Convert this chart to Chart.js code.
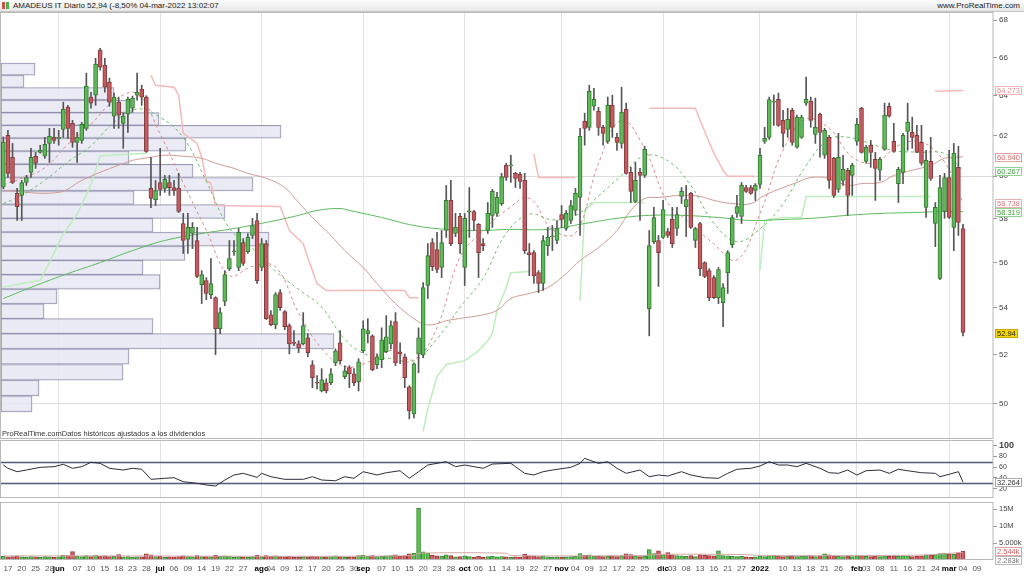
<!DOCTYPE html>
<html><head><meta charset="utf-8">
<script src="https://cdn.jsdelivr.net/npm/chart.js@4/dist/chart.umd.min.js"></script>
<style>
html,body{margin:0;padding:0;background:#fff;width:1024px;height:576px;overflow:hidden;font-family:"Liberation Sans",Arial,sans-serif;}
#hdr{position:absolute;left:0;top:0;width:1024px;height:11px;background:linear-gradient(#fdfdfd,#e6e6e6);border-bottom:1px solid #c6c6c6;font-size:8px;line-height:11px;color:#222;z-index:2;}
#hdr .t{position:absolute;left:13px;top:0;}
#hdr .r{position:absolute;right:4px;top:0;}
.ic{position:absolute;top:2px;width:3px;height:7px;}
canvas{position:absolute;left:0;}
#note{position:absolute;left:2px;top:429px;font-size:7.5px;color:#333;z-index:2;}
</style></head><body>
<div id="hdr"><span class="ic" style="left:2px;background:#d05050"></span><span class="ic" style="left:6px;background:#50b050"></span><span class="t">AMADEUS IT Diario 52,94 (-8,50% 04-mar-2022 13:02:07</span><span class="r">www.ProRealTime.com</span></div>
<canvas id="cPrice" width="1024" height="427" style="top:12px"></canvas>
<canvas id="cRsi" width="1024" height="62" style="top:438px"></canvas>
<canvas id="cVol" width="1024" height="76" style="top:500px"></canvas>
<div id="note">ProRealTime.comDatos históricos ajustados a los dividendos</div>
<script>
// ---------- categories ----------
const holidays = ['2021-12-24','2021-12-31'];
const futureDays = ['2022-03-07','2022-03-08','2022-03-09','2022-03-10','2022-03-11','2022-03-14'];
function tradingDays(a,b){const out=[];const d=new Date(a+'T00:00:00Z');const e=new Date(b+'T00:00:00Z');
  while(d<=e){const wd=d.getUTCDay();const s=d.toISOString().slice(0,10);
    if(wd!==0&&wd!==6&&!holidays.includes(s))out.push(s);d.setUTCDate(d.getUTCDate()+1);}return out;}
const dates = tradingDays('2021-05-14','2022-03-04').concat(futureDays);

const tickDates = ['2021-05-17','2021-05-20','2021-05-25','2021-05-28','2021-06-01','2021-06-07','2021-06-10','2021-06-15','2021-06-18','2021-06-23','2021-06-28','2021-07-01','2021-07-06','2021-07-09','2021-07-14','2021-07-19','2021-07-22','2021-07-27','2021-08-02','2021-08-04','2021-08-09','2021-08-12','2021-08-17','2021-08-20','2021-08-25','2021-08-30','2021-09-01','2021-09-07','2021-09-10','2021-09-15','2021-09-20','2021-09-23','2021-09-28','2021-10-01','2021-10-06','2021-10-11','2021-10-14','2021-10-19','2021-10-22','2021-10-27','2021-11-01','2021-11-04','2021-11-09','2021-11-12','2021-11-17','2021-11-22','2021-11-25','2021-12-01','2021-12-03','2021-12-08','2021-12-13','2021-12-16','2021-12-21','2021-12-27','2022-01-03','2022-01-10','2022-01-13','2022-01-18','2022-01-21','2022-01-26','2022-02-01','2022-02-03','2022-02-08','2022-02-11','2022-02-16','2022-02-21','2022-02-24','2022-03-01','2022-03-04','2022-03-09'];
const tickTexts = ['17','20','25','28','jun','07','10','15','18','23','28','jul','06','09','14','19','22','27','ago','04','09','12','17','20','25','30','sep','07','10','15','20','23','28','oct','06','11','14','19','22','27','nov','04','09','12','17','22','25','dic','03','08','13','16','21','27','2022','10','13','18','21','26','feb','03','08','11','16','21','24','mar','04','09'];
const monthTexts = ['jun','jul','ago','sep','oct','nov','dic','2022','feb','mar'];

// ---------- OHLC ----------
const opens = [59.48,62.00,60.92,59.18,59.09,59.70,60.19,60.97,61.16,60.97,
61.60,61.90,61.85,62.30,63.41,62.60,61.65,61.75,62.35,63.93,
64.03,66.38,65.59,64.70,62.96,63.67,62.60,63.06,63.36,64.03,
64.33,63.93,59.42,58.89,59.70,59.42,59.70,59.46,59.42,57.77,
57.04,57.31,56.99,55.01,55.19,54.57,54.44,53.10,54.27,55.72,
56.48,55.77,56.90,56.48,57.22,57.91,55.77,56.85,53.70,53.27,
54.66,53.83,53.23,52.52,52.46,52.46,52.71,51.59,50.87,50.52,
50.85,50.85,51.67,52.50,51.10,51.47,51.22,50.89,52.17,52.89,
52.80,51.59,51.80,52.13,52.46,53.40,52.13,51.92,50.69,49.60,
52.04,52.00,54.97,56.90,56.58,55.77,57.45,58.85,57.31,58.10,
55.77,58.30,58.33,57.73,56.85,57.45,58.15,58.24,58.70,60.53,
60.50,60.14,60.09,59.80,56.44,56.44,55.54,55.06,56.76,57.15,
56.99,58.19,57.54,57.91,58.38,58.99,62.70,62.40,63.46,63.21,
62.40,61.70,63.51,61.90,61.60,63.31,60.19,58.80,60.19,60.04,
53.96,56.94,56.99,57.13,57.40,57.96,57.54,59.04,58.56,59.18,
56.99,57.77,55.99,55.63,55.32,54.44,54.22,55.54,56.80,58.24,
58.10,59.46,59.46,59.32,59.61,61.70,61.90,63.67,63.82,62.75,
62.30,63.26,61.41,61.90,63.62,63.72,62.05,63.06,61.02,61.90,
60.87,59.37,59.80,60.29,60.04,61.70,63.36,60.72,61.51,60.82,
60.29,61.31,63.46,61.70,59.65,60.19,62.20,62.15,62.00,61.65,
58.52,60.72,57.77,55.28,58.33,59.94,57.59,60.43,57.54];
const highs = [61.92,62.25,61.60,59.42,59.80,60.04,61.36,61.16,61.51,61.90,
62.35,62.35,62.25,63.67,63.51,62.75,62.15,62.65,65.17,64.18,
65.95,66.48,65.95,64.91,64.13,63.93,63.11,63.93,63.98,65.17,
64.54,64.00,60.92,59.80,61.36,60.04,60.04,59.80,60.14,58.24,
58.24,57.82,57.59,55.63,55.32,56.17,54.48,54.00,55.63,56.99,
56.99,57.54,57.08,57.31,58.01,58.24,57.08,56.99,53.88,54.66,
54.79,53.88,53.31,53.02,52.59,53.79,52.89,51.76,51.14,51.43,
51.01,51.43,52.25,53.02,51.55,51.55,51.43,51.84,53.44,53.53,
52.84,52.04,53.14,53.66,53.44,53.79,52.50,52.04,50.73,51.67,
53.14,55.10,56.85,57.08,57.36,57.45,59.56,59.80,58.24,58.24,
58.24,59.46,58.38,57.77,57.08,58.75,59.37,59.23,60.14,60.63,
61.02,60.19,60.19,60.14,56.85,56.53,55.63,57.22,57.59,57.68,
57.91,58.61,58.38,58.85,59.42,62.35,63.11,64.54,64.38,63.41,
62.50,63.93,64.03,62.10,64.44,63.62,60.43,60.67,60.38,61.46,
57.45,58.52,57.22,58.85,57.54,58.52,58.52,59.46,59.56,59.23,
57.59,57.82,56.03,55.72,55.41,55.77,55.06,56.53,58.15,59.09,
59.70,59.56,59.56,59.65,61.36,62.40,63.93,64.03,64.13,63.26,
63.36,63.36,63.01,63.01,64.96,63.93,63.88,63.11,62.35,62.00,
60.92,62.10,61.02,60.38,60.63,62.85,63.41,61.51,61.75,61.16,
60.92,63.62,63.62,62.60,60.43,62.10,63.62,62.91,62.50,62.50,
61.26,61.90,58.75,60.04,60.14,61.26,61.60,61.46,57.73];
const lows = [59.40,59.94,59.65,57.91,57.91,59.56,59.94,60.38,61.12,60.87,
60.67,61.60,61.51,61.90,61.85,61.41,60.67,61.60,62.25,63.36,
63.51,65.32,64.18,63.46,62.35,62.35,61.36,62.15,63.16,63.77,
63.51,61.16,58.51,58.61,59.09,59.23,59.09,59.09,58.28,56.40,
56.40,56.62,55.32,54.18,54.35,54.40,52.01,52.89,54.09,55.63,
56.31,55.63,55.86,56.40,57.08,55.06,55.63,53.49,53.23,53.10,
53.88,53.06,52.04,52.38,52.09,52.42,51.92,50.65,50.60,50.48,
50.44,50.77,51.55,51.63,51.01,50.65,50.73,50.52,52.09,52.50,
51.34,51.43,51.47,52.09,52.25,51.55,51.63,50.65,49.40,49.44,
51.26,51.88,54.40,55.63,55.54,55.32,57.13,56.76,57.17,56.40,
54.97,57.13,57.45,55.32,56.53,57.31,57.59,58.10,58.61,59.80,
59.70,59.46,59.42,56.40,55.41,55.06,54.66,54.75,56.31,56.53,
56.85,57.59,57.45,57.77,58.15,57.22,61.51,62.25,63.26,62.00,
61.51,61.60,61.90,61.26,61.36,60.10,58.75,58.75,57.91,59.94,
52.80,56.85,54.93,57.08,57.13,56.67,57.22,58.70,57.17,57.54,
56.67,55.41,55.32,54.31,54.40,54.18,53.19,54.62,56.67,58.05,
57.77,59.23,59.14,58.85,59.42,61.60,61.80,62.50,62.45,61.41,
61.90,61.51,61.36,61.85,63.51,62.40,61.60,60.92,60.87,59.42,
58.99,59.23,59.56,58.15,59.09,61.51,61.12,60.63,60.43,58.85,
59.80,61.26,62.91,61.16,58.75,59.65,61.26,61.36,61.16,60.53,
58.05,59.80,56.71,55.23,58.01,58.01,56.53,57.22,52.80];
const closes = [61.67,60.14,59.70,58.56,59.70,59.94,60.92,60.63,61.26,61.56,
61.95,61.75,61.88,63.31,62.35,61.65,61.90,62.55,64.49,63.62,
65.64,65.48,64.44,63.67,63.93,63.01,62.96,63.82,63.88,64.18,
63.93,61.21,58.94,59.32,59.37,59.85,59.46,59.32,58.33,56.99,
57.59,57.59,55.37,55.46,54.62,55.06,53.10,53.79,55.46,56.17,
56.50,57.36,55.95,57.13,57.68,55.19,56.85,53.53,53.27,54.57,
54.00,53.19,52.46,52.48,52.29,53.23,52.09,51.06,50.83,50.97,
50.52,51.22,52.17,51.76,51.34,51.22,50.85,51.71,53.10,53.02,
51.38,51.92,52.63,52.76,53.23,51.67,52.04,51.06,49.72,51.63,
52.71,54.88,56.31,55.81,55.68,56.90,58.85,56.85,57.59,56.85,
58.01,58.36,57.91,56.44,56.76,58.24,59.28,58.99,59.99,59.94,
60.55,59.90,59.75,56.53,56.35,55.41,55.06,56.99,57.13,57.20,
57.54,57.96,58.24,58.61,59.18,61.95,62.35,64.23,63.82,62.40,
62.10,63.51,62.40,61.65,63.16,60.14,59.28,59.80,60.04,61.31,
56.76,58.05,56.44,58.42,57.22,56.85,58.19,59.28,58.89,57.59,
57.54,55.72,55.37,54.44,54.44,55.68,54.88,56.44,58.05,58.56,
59.56,59.28,59.18,59.56,61.02,61.85,63.80,63.72,62.50,62.10,
62.80,61.65,62.91,62.91,63.82,62.75,62.40,62.15,62.25,59.80,
59.09,60.92,60.34,59.09,60.53,62.55,61.16,61.41,61.16,60.38,
60.82,63.01,62.96,61.21,60.34,62.00,62.65,61.90,61.16,60.63,
60.77,59.90,58.52,59.46,59.94,58.05,61.12,57.82,52.94];
// volume, millions of shares
const volumes = [1.1,0.9,1.0,1.2,0.9,0.8,1.0,0.9,0.8,1.0,
0.9,0.8,0.9,1.4,1.3,2.5,1.1,1.0,1.3,1.0,
1.4,1.1,1.2,1.0,1.1,1.6,0.9,1.0,0.8,0.9,
0.9,1.8,1.5,1.0,1.1,0.8,0.9,0.8,1.0,1.2,
1.0,0.9,1.3,1.0,1.0,0.9,1.4,1.1,1.2,1.1,
0.8,1.0,0.9,0.8,0.9,1.4,1.0,1.3,1.1,1.2,
1.0,0.9,1.1,0.8,0.8,1.0,0.9,1.1,1.0,0.9,
0.9,1.0,1.2,1.0,0.8,0.8,0.9,1.3,1.4,1.1,
1.3,1.0,1.1,1.2,1.3,1.5,1.1,1.3,1.8,2.0,
15.2,2.4,2.0,1.4,1.2,1.1,1.5,1.3,0.9,1.0,
1.2,1.0,0.8,1.1,0.8,1.0,1.1,0.9,1.0,0.9,
0.8,0.9,0.8,1.7,1.2,1.1,1.0,1.2,0.9,0.8,
0.9,0.8,0.9,1.0,1.1,1.9,1.4,1.5,1.1,1.2,
1.0,1.1,1.2,1.0,1.3,1.8,1.6,1.2,1.0,1.1,
3.1,1.9,2.7,1.6,2.2,1.5,1.3,1.2,1.1,1.3,
1.0,1.6,1.4,1.3,1.2,2.7,1.3,1.2,1.1,1.0,
1.1,0.9,0.8,0.9,1.2,1.0,1.3,1.4,1.2,1.0,
1.1,1.2,1.0,1.1,1.2,1.3,1.0,1.2,1.8,1.5,
1.3,1.1,1.0,1.2,1.0,1.3,1.4,1.1,1.0,1.2,
1.0,1.3,1.1,1.2,1.1,1.3,1.2,1.0,1.1,1.2,
1.5,1.4,1.7,1.9,2.0,1.8,1.7,2.1,2.54];
const volMaIdx = [0,30,60,89,90,109,110,139,140,145,160,165,185,200,208];
const volMaVal = [1.2,1.2,1.1,1.3,2.0,2.0,1.3,1.3,1.5,1.7,1.6,1.3,1.3,1.5,2.28];

// ---------- moving averages (read at sampled sessions) ----------
const ma10Idx = [0,4,9,14,19,24,29,34,39,44,49,54,59,64,69,74,79,84,89,94,99,104,109,114,119,124,129,134,139,144,149,154,159,164,169,174,179,184,189,194,199,204,208];
const ma10Val = [59.6,59.9,60.41,61.56,62.55,63.74,64.10,62.06,59.67,57.46,55.42,55.82,55.80,53.78,52.26,51.52,51.69,52.18,51.80,53.15,56.24,57.45,58.39,58.95,57.49,57.33,60.63,62.76,61.34,58.75,57.77,56.83,56.11,58.22,61.27,62.81,62.34,60.93,60.66,61.50,61.67,60.69,58.74];
const ma20Idx = ma10Idx;
const ma20Val = [58.7,59.1,59.8,60.7,61.48,62.65,63.33,62.90,61.89,59.76,57.55,56.64,55.61,54.80,54.03,52.65,51.98,51.85,51.75,52.67,54.02,55.30,57.32,58.20,57.94,58.14,59.06,60.04,60.99,60.75,59.56,57.79,56.94,57.53,58.69,60.52,61.81,61.87,61.50,61.22,61.17,61.10,60.27];
const ma50Idx = [0,12,17,21,25,28,32,35,39,43,46,50,53,57,61,64,67,71,74,78,81,85,89,91,93,96,100,103,107,110,114,118,122,125,129,133,136,139,142,147,151,154,158,162,165,169,172,175,179,183,186,190,193,197,201,204,208];
const ma50Val = [59.32,59.23,59.80,60.19,60.53,60.77,60.92,61.02,60.97,60.87,60.63,60.38,60.14,59.90,59.46,58.75,58.05,57.22,56.53,55.77,55.06,54.18,53.53,53.31,53.27,53.44,53.57,53.66,53.88,54.40,54.62,54.88,55.50,56.08,56.67,57.45,58.38,58.94,58.99,59.09,59.04,58.85,58.70,58.70,59.09,59.46,59.70,59.94,59.90,59.56,59.65,59.70,60.04,60.29,60.53,60.87,60.94];
const ma200Idx = [0,7,14,21,28,35,43,50,57,64,68,73,75,82,89,96,103,110,118,126,133,140,147,155,162,169,175,183,190,197,204,208];
const ma200Val = [54.40,54.97,55.50,55.99,56.53,56.99,57.31,57.54,57.82,58.15,58.38,58.47,58.38,58.05,57.68,57.50,57.45,57.50,57.50,57.77,58.01,58.15,58.15,58.05,57.91,57.96,58.01,58.15,58.24,58.28,58.33,58.32];

// trailing stop: [session, level]
const stopHighSegs = [
 [[32,65.06],[33,64.54],[37,64.44],[38,64.03],[39,62.10],[42,61.60],[43,60.92],[44,59.80],[45,59.65],[46,58.61],[60,58.56],[62,57.45],[65,56.85],[66,56.20],[68,55.06],[70,54.75],[87,54.75],[88,54.44],[90,54.44]],
 [[115,61.07],[116,59.94],[124,59.94]],
 [[140,63.36],[150,63.36],[151,62.75],[154,61.12],[156,60.29],[157,60.00],[163,60.00]],
 [[202,64.23],[208,64.27]]
];
const stopLowSegs = [
 [[0,54.9],[8,55.2],[10,56.0],[13,57.3],[16,58.2],[19,59.6],[21,61.0],[31,61.12]],
 [[91,48.9],[92,49.8],[94,51.1],[96,51.6],[100,51.76],[103,52.17],[105,52.59],[106,52.9],[107,53.88],[109,54.88],[110,55.54],[114,55.59]],
 [[125,54.31],[126,58.38],[128,58.75],[139,58.75]],
 [[164,55.63],[165,57.91],[169,58.05],[173,58.05],[174,59.04],[201,59.04]]
];

// volume profile (price bin centre, relative volume)
const profilePrices = [50.00,50.64,51.28,51.93,52.57,53.21,53.85,54.49,55.13,55.77,56.41,57.05,57.69,58.33,58.98,59.62,60.26,60.90,61.54,62.18,62.82,63.46,64.10,64.74,65.38];
const profileVolume = [31,38,122,128,333,152,43,56,159,142,184,268,152,224,133,252,192,128,185,280,158,132,113,23,34];
const profileHalfBin = 0.3205;

// RSI
const rsiIdx = [0,1,3,5,8,11,13,15,17,19,21,23,26,28,30,32,35,37,39,42,44,46,48,50,52,55,56,58,61,65,67,69,72,74,76,78,81,83,86,88,90,92,94,96,98,100,102,104,106,110,113,115,117,119,123,125,126,127,129,131,133,135,138,140,142,144,147,149,152,155,157,159,162,164,166,168,170,172,174,177,179,181,183,185,187,190,192,194,196,199,202,203,205,207,208];
const rsiVal = [63.9,57.8,51.5,54.6,59.6,60.8,65.2,57.8,60.8,68.9,67,57.8,54.6,57.8,56,37.4,39.3,40.4,33,30,26.9,25,36,45.4,48.5,41,48.5,42.2,37.4,37.4,42.2,36.1,34.8,42.2,39.3,51.5,45.4,49.6,53.3,39.3,51.5,63.9,67,70,60.8,63.9,60.8,57.8,65.7,67,48.5,45.4,51.5,54.6,59.6,67,76.3,73.1,67,70,57.8,48.5,54.6,42.2,45.4,43.5,51.5,45.4,40.4,39.3,48.5,56,57.8,62,70,63.9,63.9,60.8,67,57.8,49.6,48.5,54.6,45.4,53.3,54.6,48.5,56,53.3,49.6,48.5,42.2,46.7,51.5,32.26];

// axis ticks
const priceTicks = [50,52,54,56,58,60,62,64,66,68];
const rsiTicks = [20,40,60,80,100];
const volTicks = [5,10,15];
const volTickTexts = ['5.000k','10M','15M'];

// last-value tags
const priceTagValues = [64.273,60.940,60.267,58.738,58.319,52.94];
const priceTagTexts = ['64.273','60.940','60.267','58.738','58.319','52.94'];
const rsiTagValues = [32.264]; const rsiTagTexts = ['32.264'];
const volTagValues = [2.544,2.283]; const volTagTexts = ['2.544k','2.283k'];

// ---------- helpers ----------
Chart.defaults.font.family = '"Liberation Sans", Arial, sans-serif';
Chart.defaults.font.size = 8;
Chart.defaults.color = '#444';
const tickMap = {}; tickDates.forEach((d,i)=>tickMap[d]=tickTexts[i]);
const monthStart = dates.map((d,i)=> i>0 && d.slice(0,7)!==dates[i-1].slice(0,7));
const isMonth = i => monthTexts.includes(tickMap[dates[i]]);
const knots = (idx, vals) => idx.map((k,j)=>({x:dates[k], y:vals[j]}));
const upFlags = closes.map((c,i)=>c>=opens[i]);

const framePlugin = {id:'frame', afterDraw(chart){const {ctx, chartArea:a}=chart;ctx.save();ctx.strokeStyle='#b9b9b9';ctx.lineWidth=1;
  ctx.strokeRect(Math.round(a.left)-0.5, Math.round(a.top)+0.5, Math.round(a.right-a.left)+0.5, Math.round(a.bottom-a.top)-1);ctx.restore();}};
const hlinePlugin = {id:'hlines', beforeDatasetsDraw(chart, args, o){ if(!o||!o.values) return; const {ctx, chartArea:a}=chart; const ys=chart.scales.y;
  ctx.save(); ctx.strokeStyle=o.color; ctx.lineWidth=o.width; o.values.forEach(v=>{const y=Math.round(ys.getPixelForValue(v))+0.5;ctx.beginPath();ctx.moveTo(a.left,y);ctx.lineTo(a.right,y);ctx.stroke();}); ctx.restore();}};
const tagPlugin = {id:'tags', afterDraw(chart, args, o){ if(!o||!o.items) return; const {ctx, chartArea:a}=chart; const ys=chart.scales.y;
  ctx.save(); ctx.font='7.5px "Liberation Sans", Arial, sans-serif'; ctx.textBaseline='middle';
  const items=o.items.map(t=>Object.assign({y:ys.getPixelForValue(t.value)},t)).sort((p,q)=>p.y-q.y);
  for(let i=1;i<items.length;i++){ if(items[i].y-items[i-1].y<9) items[i].y=items[i-1].y+9; }
  items.forEach(t=>{ const y=Math.round(t.y); const x=Math.round(a.right)+2; const w=Math.ceil(ctx.measureText(t.text).width)+4;
    ctx.fillStyle=t.bg||'#fff'; ctx.fillRect(x,y-4,w,9); ctx.strokeStyle=t.border; ctx.lineWidth=1; ctx.strokeRect(x+0.5,y-3.5,w-1,8);
    ctx.fillStyle=t.color; ctx.fillText(t.text,x+2,y+0.5); });
  ctx.restore();}};

function xAxis(showLabels){
  const ax = {type:'category', offset:true, border:{display:false},
    grid:{offset:false, drawTicks:false, lineWidth:1, color:c=> monthStart[c.index] ? '#e2e2e2' : 'rgba(0,0,0,0)'}};
  if(showLabels){
    ax.ticks = {autoSkip:false, maxRotation:0, minRotation:0, padding:4,
      callback:(v,i)=> tickMap[dates[i]] || '',
      font:c=>({size:8, weight: isMonth(c.index)?'bold':'normal'}),
      color:c=> isMonth(c.index)?'#000':'#555'};
  } else { ax.ticks = {display:false}; }
  ax.afterFit = s => { if(showLabels) s.height = 16; s.paddingLeft = 0; s.paddingRight = 0; };
  return ax;
}
function rightAxis(extra){ return Object.assign({position:'right', offset:false, border:{display:false},
  afterFit:s=>{ s.width=31; s.paddingTop=0; s.paddingBottom=0; }}, extra); }
const baseOpts = {responsive:false, animation:false, events:[]};

// ---------- price chart ----------
function priceConfig(thick){
  const profileSets = profilePrices.map((p,i)=>({type:'bar', indexAxis:'y', xAxisID:'xp', yAxisID:'y',
    data:[{x:profileVolume[i], y:p}], backgroundColor:'rgba(232,232,244,0.85)', borderColor:'rgba(140,140,170,0.9)',
    borderWidth:1, borderSkipped:false, barThickness:thick[i], grouped:false, order:10}));
  const datasets = [
    ...profileSets,
    ...stopHighSegs.map(seg=>({type:'line', data: seg.map(([k,v])=>({x:dates[k], y:v})), borderColor:'#f6b9b9', borderWidth:1.5, pointRadius:0, tension:0, order:8})),
    ...stopLowSegs.map(seg=>({type:'line', data: seg.map(([k,v])=>({x:dates[k], y:v})), borderColor:'#bdeebb', borderWidth:1.5, pointRadius:0, tension:0, order:8})),
    {type:'line', data:knots(ma200Idx, ma200Val), borderColor:'#5bbb5b', borderWidth:1, pointRadius:0, tension:0.4, order:7},
    {type:'line', data:knots(ma50Idx, ma50Val), borderColor:'#d29a96', borderWidth:1, pointRadius:0, tension:0.4, order:7},
    {type:'line', data:knots(ma20Idx, ma20Val), borderColor:'#6cbf6c', borderWidth:1, borderDash:[3,3], pointRadius:0, tension:0.4, order:6},
    {type:'line', data:knots(ma10Idx, ma10Val), borderColor:'#d88a8a', borderWidth:1, borderDash:[3,3], pointRadius:0, tension:0.4, order:6},
    {type:'bar', data: lows.map((l,i)=>[l, highs[i]]), backgroundColor:'#555', barThickness:1, grouped:false, order:2},
    {type:'bar', data: opens.map((o,i)=>[o, closes[i]]), backgroundColor: upFlags.map(u=>u?'#5fb95a':'#c65b5f'),
     borderColor: upFlags.map(u=>u?'#357a31':'#853b3e'), borderWidth:1, borderSkipped:false, barThickness:4, grouped:false, minBarLength:1, order:1}
  ];
  return {
    type:'bar', data:{labels:dates, datasets},
    options:Object.assign({}, baseOpts, {
      layout:{padding:{left:1,right:0,top:0,bottom:0}},
      plugins:{legend:{display:false}, tooltip:{enabled:false},
        tags:{items: priceTagValues.map((v,i)=>({value:v, text:priceTagTexts[i],
          border:['#f0b4b4','#e4a2a2','#92d292','#e9b0b0','#92d292','#c9a900'][i],
          color:['#e29090','#d06868','#3fa03f','#d37c7c','#3fa03f','#222'][i],
          bg: i===5 ? '#f6d800' : '#fff'}))}},
      scales:{
        x: xAxis(false),
        xp: {type:'linear', display:false, offset:false, grid:{offset:false}, min:0, max:992, position:'bottom'},
        y: rightAxis({type:'logarithmic', min:48.61, max:68.44,
          afterBuildTicks:s=>{ s.ticks = priceTicks.map(v=>({value:v})); },
          ticks:{autoSkip:false, callback:v=>String(v), font:{size:8}, color:'#444', padding:2},
          grid:{offset:false, color:c=> (c.tick && (c.tick.value===50||c.tick.value===60)) ? '#dcdcdc' : 'rgba(0,0,0,0)', tickColor:'#999', tickLength:4, drawTicks:true}})
      }}),
    plugins:[framePlugin, tagPlugin]
  };
}
const priceCanvas = document.getElementById('cPrice');
let priceChart = new Chart(priceCanvas, priceConfig(profilePrices.map(()=>12)));
const ysc = priceChart.scales.y;
const thick = profilePrices.map(p => Math.abs(ysc.getPixelForValue(p - profileHalfBin) - ysc.getPixelForValue(p + profileHalfBin)));
priceChart.destroy();
priceChart = new Chart(priceCanvas, priceConfig(thick));

// ---------- RSI chart ----------
new Chart(document.getElementById('cRsi'), {
  type:'line', data:{labels:dates, datasets:[{data:knots(rsiIdx, rsiVal), borderColor:'#2d2d3c', borderWidth:1, pointRadius:0, tension:0}]},
  options:Object.assign({}, baseOpts, {
    layout:{padding:{left:1,right:0,top:2,bottom:2}},
    plugins:{legend:{display:false}, tooltip:{enabled:false}, hlines:{values:[70,30], color:'#55577a', width:1.5},
      tags:{items: rsiTagValues.map((v,i)=>({value:v, text:rsiTagTexts[i], border:'#aaa', color:'#333'}))}},
    scales:{
      x: xAxis(false),
      y: rightAxis({type:'linear', min:2.8, max:110.2,
        afterBuildTicks:s=>{ s.ticks = rsiTicks.map(v=>({value:v})); },
        ticks:{autoSkip:false, callback:v=>String(v), font:c=> (c.tick && c.tick.value===100) ? {size:9, weight:'bold'} : {size:7}, color:'#444', padding:2},
        grid:{color:'rgba(0,0,0,0)', tickColor:'#999', tickLength:4, drawTicks:true}})
    }}),
  plugins:[framePlugin, hlinePlugin, tagPlugin]
});

// ---------- volume chart ----------
new Chart(document.getElementById('cVol'), {
  type:'bar', data:{labels:dates, datasets:[
    {type:'bar', data:volumes, backgroundColor: upFlags.map(u=>u?'#5cbf52':'#d65c61'), borderColor: upFlags.map(u=>u?'#3a8a35':'#9a3a3d'),
     borderWidth:1, barThickness:4, grouped:false, order:2},
    {type:'line', data:knots(volMaIdx, volMaVal), borderColor:'#d6a6a6', borderWidth:1, pointRadius:0, tension:0.3, order:1}
  ]},
  options:Object.assign({}, baseOpts, {
    layout:{padding:{left:1,right:0,top:2,bottom:0}},
    plugins:{legend:{display:false}, tooltip:{enabled:false},
      tags:{items: volTagValues.map((v,i)=>({value:v, text:volTagTexts[i], border: i===0?'#e4a2a2':'#bbb', color: i===0?'#d05a5a':'#777'}))}},
    scales:{
      x: xAxis(true),
      y: rightAxis({type:'linear', min:0, max:17.06,
        afterBuildTicks:s=>{ s.ticks = volTicks.map(v=>({value:v})); },
        ticks:{autoSkip:false, callback:v=> volTickTexts[volTicks.indexOf(v)] || '', font:{size:7.5}, color:'#444', padding:2},
        grid:{color:'rgba(0,0,0,0)', tickColor:'#999', tickLength:4, drawTicks:true}})
    }}),
  plugins:[framePlugin, tagPlugin]
});
</script>
</body></html>
